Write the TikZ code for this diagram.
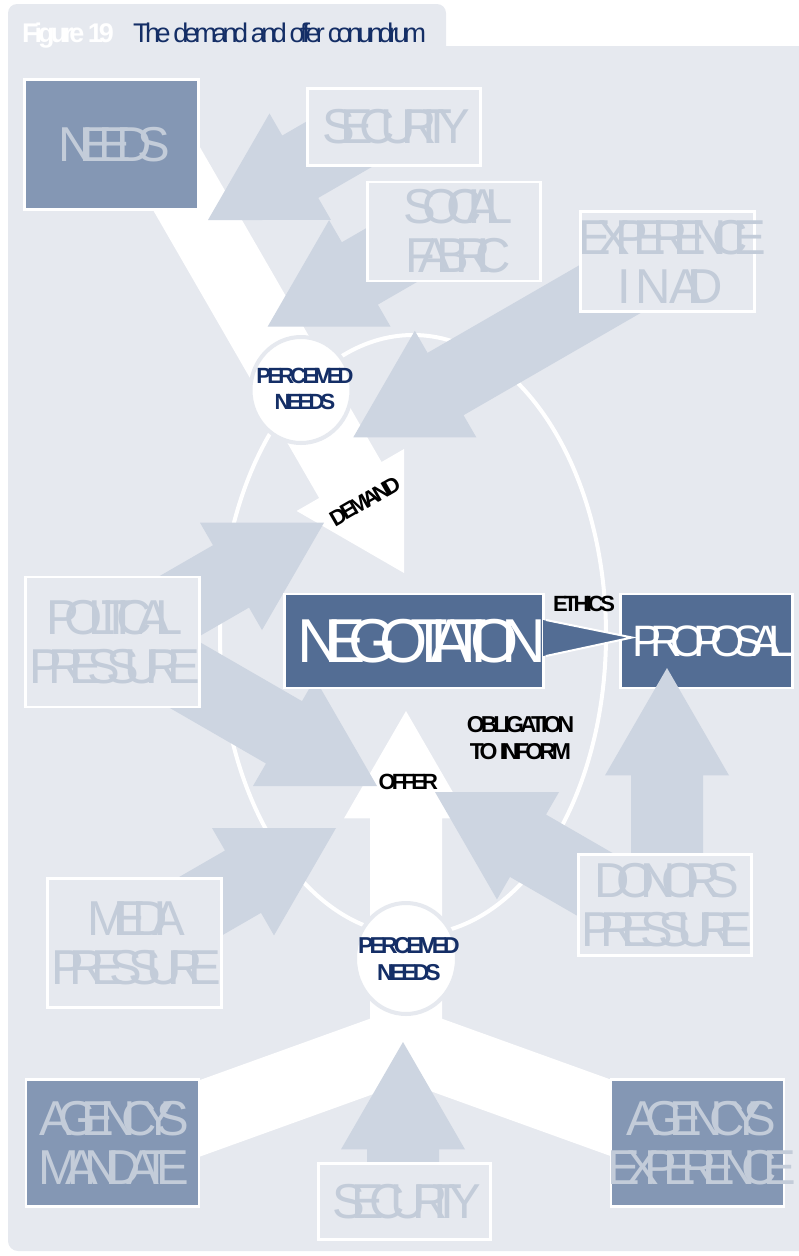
\documentclass[tikz,border=0pt]{standalone}
\usepackage{fontspec}
\setmainfont{Liberation Sans}
\newfontfamily\bxf[LetterSpace=-29]{Liberation Sans}
\newfontfamily\ngf[LetterSpace=-28]{Liberation Sans}
\newfontfamily\prf[LetterSpace=-26.5]{Liberation Sans}
\newfontfamily\lbf[LetterSpace=-17]{Liberation Sans}
\newfontfamily\tif[LetterSpace=-17]{Liberation Sans}
\newfontfamily\tib[LetterSpace=-15]{Liberation Sans}
\usetikzlibrary{calc,shapes.geometric}
\definecolor{panelc}{RGB}{230,233,239}
\definecolor{arrowc}{RGB}{205,213,225}
\definecolor{ltext}{RGB}{195,204,217}
\definecolor{darkbox}{RGB}{132,151,180}
\definecolor{negblue}{RGB}{83,109,148}
\definecolor{navy}{RGB}{20,46,102}
\newcommand\zb[1]{\makebox[0pt]{#1}}
\newcommand\fatarrow[5]{%
  \path ($(#3)!{0.866*#5}!(#2)$) coordinate (fab);
  \fill[#1] ($(#2)!#4!90:(#3)$) -- ($(fab)!#4!90:(#3)$) -- ($(fab)!{0.5*#5}!90:(#3)$) -- (#3)
    -- ($(fab)!{0.5*#5}!-90:(#3)$) -- ($(fab)!#4!-90:(#3)$) -- ($(#2)!#4!-90:(#3)$) -- cycle;
}
\tikzset{
  lbox/.style={draw=white, line width=2.5pt, fill=panelc, text=ltext, align=center, inner sep=0pt,
    font={\bxf\fontsize{49}{49}\selectfont}},
  dbox/.style={lbox, fill=darkbox},
  nbox/.style={draw=white, line width=2.5pt, fill=negblue, text=white, inner sep=0pt},
  lbl/.style={inner sep=0pt, text=black, font={\lbf\bfseries\fontsize{22}{26}\selectfont}},
  plbl/.style={lbl, text=navy, align=center},
  pcirc/.style={ellipse, fill=white, draw=panelc, line width=4pt, inner sep=0pt},
  wband/.style={fill=white},
  gband/.style={fill=arrowc}
}
\begin{document}
\begin{tikzpicture}[x=1pt,y=-1pt]
\useasboundingbox (0,0) rectangle (799,1256);
\clip (0,0) rectangle (799,1256);
% panel and tab
\fill[panelc, rounded corners=9pt] (8,4) rectangle (446,80);
\fill[panelc, rounded corners=10pt] (8,46) rectangle (830,1251);
\node[anchor=base west, inner sep=0pt, text=white, font={\tib\bfseries\fontsize{27}{30}\selectfont}] (fig) at (22,42.3) {Figure 19};
\node[anchor=base west, inner sep=0pt, text=navy, font={\tif\fontsize{27}{30}\selectfont}] (ttl) at (133,42.3) {The demand and offer conundrum};
% big ellipse
\draw[white, line width=4pt] (413,635) ellipse [x radius=193pt, y radius=300pt];
% coordinates
\coordinate (nT) at (160,150);   \coordinate (dT) at (404,573);
\coordinate (oT) at (406,1044);  \coordinate (oH) at (406,711);
\coordinate (mL) at (112,1150);  \coordinate (mR) at (700,1150);
\coordinate (s1T) at (372.5,125);  \coordinate (s1H) at (208,220);
\coordinate (soT) at (432.1,231.7); \coordinate (soH) at (267.6,326.7);
\coordinate (exT) at (656.4,262.3); \coordinate (exH) at (353.3,437.3);
\coordinate (p1T) at (133.5,632.7); \coordinate (p1H) at (324,522.7);
\coordinate (p2T) at (134.5,646);   \coordinate (p2H) at (377,786);
\coordinate (meT) at (136.8,943);   \coordinate (meH) at (336,828);
\coordinate (doT) at (660,922);     \coordinate (doH) at (435,792);
\coordinate (dpT) at (667,900);     \coordinate (dpH) at (667,668);
\coordinate (s2T) at (403,1200);    \coordinate (s2H) at (403,1042);
% white bands
\fatarrow{wband}{nT}{dT}{36pt}{124pt}
\fatarrow{wband}{oT}{oH}{36pt}{124pt}
\draw[white, line width=72pt, line join=miter] (mL) -- (oT) -- (mR);
% grey arrows
\fatarrow{gband}{s1T}{s1H}{36pt}{123pt}
\fatarrow{gband}{soT}{soH}{36pt}{123pt}
\fatarrow{gband}{exT}{exH}{36pt}{123pt}
\fatarrow{gband}{p1T}{p1H}{36pt}{124pt}
\fatarrow{gband}{p2T}{p2H}{36pt}{124pt}
\fatarrow{gband}{meT}{meH}{36pt}{124pt}
\fatarrow{gband}{doT}{doH}{36pt}{124pt}
\fatarrow{gband}{s2T}{s2H}{36pt}{124pt}
% perceived needs circles
\node[pcirc, minimum width=101pt, minimum height=106pt] (pn1) at (301,390) {};
\node[pcirc, minimum width=102pt, minimum height=111pt] (pn2) at (406,958.5) {};
\node[plbl] (pn1t) at (305,388.8) {PERCEIVED\\NEEDS};
\node[plbl, font={\lbf\bfseries\fontsize{23}{26.7}\selectfont}] (pn2t) at (409,959) {PERCEIVED\\NEEDS};
% boxes
\node[lbox, minimum width=173pt, minimum height=77pt] (sec1) at (394,127) {\zb{\kern5pt SECURITY}};
\node[lbox, minimum width=173pt, minimum height=99pt] (soc) at (454,231.5) {\zb{\kern8pt SOCIAL}\\\zb{\kern8pt FABRIC}};
\node[lbox, minimum width=174pt, minimum height=100pt] (exp) at (667.5,261.5) {\zb{\kern10pt EXPERIENCE}\\\zb{\kern6pt I\kern3.5pt N AID}};
\node[lbox, minimum width=174pt, minimum height=130pt] (pol) at (112.7,642) {\zb{\kern4pt POLITICAL}\\\zb{\kern4pt PRESSURE}};
\node[lbox, minimum width=174pt, minimum height=129pt] (med) at (134.5,943) {\zb{\kern4pt MEDIA}\\\zb{\kern4pt PRESSURE}};
\node[lbox, minimum width=172pt, minimum height=76pt] (sec2) at (404.5,1201.5) {\zb{\kern5pt SECURITY}};
\node[dbox, minimum width=174pt, minimum height=130pt] (needs) at (111.5,144.5) {\zb{\kern6pt NEEDS}};
\node[dbox, minimum width=173pt, minimum height=127pt] (mand) at (112.3,1143) {\zb{\kern4pt AGENCY'S}\\\zb{\kern4pt MANDATE}};
\node[dbox, minimum width=173pt, minimum height=127pt] (aexp) at (697.7,1143) {\zb{\kern8pt AGENCY'S}\\\zb{\kern8pt EXPERIENCE}};
\node[nbox, minimum width=259pt, minimum height=94pt, font={\ngf\fontsize{62}{62}\selectfont}] (neg) at (414,641) {\zb{\kern15pt NEGOTIATION}};
\node[nbox, minimum width=172pt, minimum height=94pt, font={\prf\fontsize{44}{44}\selectfont}] (prop) at (706.5,641) {\zb{\kern13pt PROPOSAL}};
% donors -> proposal arrow (over proposal box)
\fatarrow{gband}{dpT}{dpH}{36pt}{124pt}
\node[lbox, minimum width=173pt, minimum height=101pt] (don) at (665,905) {\zb{\kern4pt DONORS}\\\zb{\kern4pt PRESSURE}};
% ethics triangle
\coordinate (e1) at (543,620); \coordinate (e2) at (632,637.5); \coordinate (e3) at (543,656);
\fill[negblue] (e1) -- (e2) -- (e3) -- cycle;
\draw[white, line width=2pt, line join=miter] ($(e1)+(3,0)$) -- (e2) -- ($(e3)+(3,0)$);
% labels
\node[lbl, anchor=base] (eth) at (584,611.7) {ETHICS};
\node[lbl, align=center, font={\lbf\bfseries\fontsize{23}{26.7}\selectfont}] (obl) at (520.5,738.4) {OBLIGATION\\TO INFORM};
\node[lbl, anchor=base] (off) at (408.3,789.3) {OFFER};
\node[lbl, rotate=30] (dem) at (365,501) {DEMAND};
\end{tikzpicture}
\end{document}
